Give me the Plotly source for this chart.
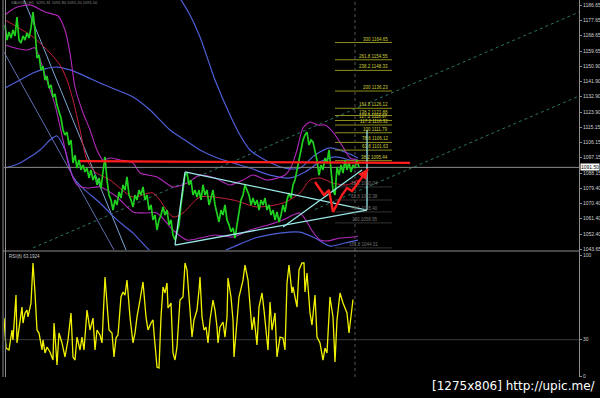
import plotly.graph_objects as go

# ---------------- data ----------------
# closing prices, one per bar
close = [1174.9, 1166.1, 1170.8, 1167.3, 1172.0, 1168.5, 1179.6, 1166.1, 1164.4, 1168.5,
         1166.1, 1170.2, 1167.3, 1173.2, 1182.5, 1172.0, 1155.6, 1157.3, 1148.5, 1150.9,
         1142.7, 1145.0, 1138.0, 1139.8, 1132.7, 1134.5, 1128.0, 1123.9, 1120.4, 1113.4,
         1110.5, 1112.2, 1104.6, 1107.5, 1094.1, 1098.7, 1091.1, 1095.8, 1090.0, 1092.9,
         1088.8, 1091.1, 1085.3, 1090.0, 1084.1, 1087.0, 1081.2, 1085.3, 1079.4, 1088.8,
         1097.6, 1084.1, 1075.3, 1072.4, 1066.5, 1072.4, 1069.5, 1077.1, 1073.5, 1081.2,
         1078.2, 1085.9, 1075.3, 1072.4, 1068.3, 1075.3, 1072.4, 1078.2, 1075.3, 1080.0,
         1072.4, 1075.3, 1066.5, 1069.5, 1060.7, 1063.6, 1054.8, 1060.7, 1063.6, 1068.3,
         1063.6, 1066.5, 1057.8, 1060.7, 1051.9, 1049.0, 1053.7, 1057.8, 1069.5, 1078.2,
         1087.0, 1088.2, 1081.2, 1084.1, 1075.3, 1078.2, 1074.1, 1078.2, 1072.4, 1081.2,
         1075.3, 1078.2, 1069.5, 1073.5, 1078.2, 1069.5, 1063.6, 1059.5, 1066.5, 1063.6,
         1069.5, 1060.7, 1057.8, 1053.7, 1056.0, 1050.1, 1057.8, 1065.4, 1072.4, 1075.3,
         1081.2, 1078.2, 1075.3, 1069.5, 1073.5, 1069.5, 1072.4, 1066.5, 1072.4, 1069.5,
         1073.5, 1066.5, 1069.5, 1063.6, 1066.5, 1060.7, 1065.4, 1059.5, 1063.6, 1069.5,
         1065.4, 1072.4, 1076.5, 1073.5, 1081.2, 1084.1, 1090.0, 1095.8, 1101.7, 1107.5,
         1110.5, 1112.2, 1104.6, 1107.5, 1106.4, 1101.7, 1095.8, 1087.0, 1092.9, 1090.0,
         1097.0, 1094.1, 1101.7, 1090.0, 1078.2, 1075.3, 1091.7, 1087.0, 1092.9, 1088.2,
         1095.8, 1090.0, 1094.6, 1088.8, 1092.9, 1091.1, 1095.8, 1091.5]
last_price = 1091.5

# RSI(8): (bar, value)
rsi_points = [(-0.5, 47.9), (0.5, 23.1), (2, 21.5), (3.5, 38.0), (4, 29.8), (5.5, 66.9), (6, 27.3),
              (7, 40.5), (8.5, 57.0), (9, 43.8), (10, 52.1), (11, 54.5), (11.5, 48.8), (13, 60.3),
              (14, 93.4), (15, 68.6), (16, 38.0), (17, 35.5), (18.5, 21.5), (19, 29.8), (20, 19.0),
              (21, 24.0), (22.5, 19.8), (24, 13.2), (24.5, 43.8), (25.5, 21.5), (26, 9.1), (27, 35.5),
              (28.5, 27.3), (30, 15.7), (31.5, 29.8), (33, 52.1), (34, 15.7), (35, 13.2), (36, 32.2),
              (37.5, 21.5), (38.5, 32.2), (39.5, 21.5), (41, 54.5), (42.5, 38.0), (44, 47.9),
              (45, 21.5), (46, 38.0), (47.5, 33.9), (48.5, 27.3), (50, 81.8), (51, 60.3), (52, 38.0),
              (53.5, 35.5), (54.5, 15.7), (55.5, 31.4), (56.5, 33.9), (58, 65.3), (59, 69.4),
              (60, 66.9), (61, 79.3), (62.5, 48.8), (64, 27.3), (65, 35.5), (66, 48.8), (67.5, 62.8),
              (69, 77.7), (70.5, 48.8), (71.5, 38.0), (73, 43.8), (74, 46.3), (74.5, 35.5), (76, 7.4),
              (77, 6.6), (78, 48.8), (79, 73.6), (80, 68.6), (81, 76.9), (81.5, 56.2), (83, 60.3),
              (84, 19.0), (85, 13.2), (86, 24.0), (87.5, 62.8), (89, 65.3), (90, 93.4), (91, 87.6),
              (92, 65.3), (93.5, 32.2), (94.5, 46.3), (96, 54.5), (97, 71.1), (97.5, 81.8),
              (98.5, 48.8), (99.5, 38.0), (100.5, 40.5), (101.5, 27.3), (102.5, 46.3), (104, 62.8),
              (105, 54.5), (106, 40.5), (106.5, 27.3), (107.5, 40.5), (109, 44.6), (110, 32.2),
              (111, 48.8), (111.5, 81.0), (113, 65.3), (114, 46.3), (114.5, 15.7), (116, 44.6),
              (117, 65.3), (119, 79.3), (120, 91.7), (121.5, 79.3), (123.5, 38.0), (124.5, 48.8),
              (126, 25.6), (127, 57.0), (128.5, 68.6), (129.5, 54.5), (130.5, 38.0), (131.5, 21.5),
              (132.5, 61.2), (133.5, 38.0), (135, 52.1), (136, 15.7), (137.5, 32.2), (139, 31.4),
              (140, 21.5), (141, 76.9), (142, 91.7), (143.5, 68.6), (144, 73.6), (145.5, 62.8),
              (146, 57.0), (147, 87.6), (148.5, 93.4), (149.5, 93.4), (150, 69.4), (151, 85.1),
              (152.5, 52.1), (153.5, 42.1), (155, 66.9), (156, 32.2), (157.5, 27.3), (159, 13.2),
              (160, 23.1), (161, 19.0), (162.5, 65.3), (164, 48.8), (165, 11.6), (166, 46.3),
              (167.5, 68.6), (169, 60.3), (170, 56.2), (171, 52.1), (172, 35.5), (173.5, 60.3),
              (174, 63.19)]
rsi_level = 30

# indicator curves: (bar, price)
magenta_upper = [(0, 1180.8), (5, 1184.9), (12.5, 1186.7), (20, 1182.5), (26.5, 1180.2), (30, 1172.0),
                 (32.5, 1158.5), (35, 1138.6), (38.5, 1125.1), (42.5, 1113.4), (46, 1101.7),
                 (49, 1095.8), (52.5, 1097.0), (57.5, 1095.8), (64, 1094.1), (67.5, 1088.2),
                 (76, 1085.9), (84, 1080.0), (91, 1082.3), (97.5, 1087.0), (105, 1085.3),
                 (112.5, 1081.2), (119, 1084.1), (124, 1087.0), (131, 1084.1), (140, 1087.0),
                 (143.5, 1092.9), (146, 1101.7), (149, 1114.6), (152.5, 1118.1), (156.5, 1116.3),
                 (160, 1116.3), (164, 1112.2), (169, 1103.4), (172.5, 1097.0), (176.5, 1095.8)]
magenta_lower = [(0, 1163.2), (5, 1161.5), (11, 1160.3), (15, 1161.5), (20, 1145.6), (25, 1128.1),
                 (29, 1107.5), (32.5, 1090.0), (36, 1081.2), (41, 1079.4), (47.5, 1080.0),
                 (56, 1074.1), (64, 1065.4), (70, 1064.8), (76, 1064.8), (84, 1054.8), (91, 1048.9),
                 (97.5, 1050.1), (105, 1051.9), (114, 1050.7), (122.5, 1054.8), (131.5, 1057.7),
                 (139, 1060.7), (144, 1063.6), (147.5, 1064.8), (151, 1059.5), (154, 1053.6),
                 (157.5, 1048.9), (161, 1048.4), (167.5, 1050.1), (174, 1050.7), (176.5, 1051.3)]
red_ma = [(0, 1177.9), (6, 1173.8), (14, 1167.9), (22.5, 1158.5), (27.5, 1151.5), (31, 1142.7),
          (34, 1131.0), (37.5, 1113.4), (41, 1095.8), (45, 1088.8), (52.5, 1084.1), (64, 1074.1),
          (74, 1076.5), (84, 1062.4), (89, 1064.8), (97.5, 1074.1), (114, 1072.4), (126, 1068.3),
          (139, 1070.6), (147.5, 1076.5), (152.5, 1084.1), (157.5, 1085.3), (164, 1082.3),
          (171, 1081.2), (176.5, 1084.1)]
blue_upper = [(0, 1138.0), (7.5, 1142.7), (14, 1146.8), (20, 1149.2), (26, 1150.3), (32.5, 1148.6),
              (40, 1145.0), (47.5, 1140.9), (56, 1136.8), (64, 1132.7), (72.5, 1125.1), (82.5, 1113.4),
              (90, 1107.5), (97.5, 1101.7), (105, 1097.6), (114, 1094.1), (122.5, 1091.1),
              (132.5, 1087.0), (142.5, 1085.3), (150, 1088.8), (157.5, 1094.7), (165, 1097.6),
              (172.5, 1095.8), (176.5, 1094.7)]
blue_lower = [(0, 1091.1), (7.5, 1094.1), (17.5, 1101.7), (22.5, 1107.5), (26, 1109.9), (30, 1101.7),
              (34, 1085.9), (40, 1078.2), (47.5, 1070.6), (56, 1060.7), (64, 1053.0), (71, 1044.3),
              (77.5, 1037.2), (87.5, 1033.0), (97.5, 1035.5), (105, 1040.2), (114, 1044.8),
              (125, 1050.1), (137.5, 1053.0), (147.5, 1053.6), (155, 1050.1), (162.5, 1045.4),
              (170, 1047.2), (176.5, 1048.9)]
blue_outer = [(86.5, 1192.5), (92.5, 1180.8), (97.5, 1167.9), (105, 1142.7), (112.5, 1122.2),
              (117.5, 1110.5), (122.5, 1101.7), (130, 1095.8), (140, 1091.1), (147.5, 1091.1),
              (155, 1098.7), (162.5, 1102.9), (170, 1100.5), (176.5, 1097.0)]

# straight drawn objects: (bar, price) end points
channel_a = [(-0.5, 1159.0), (54.5, 1043.1)]
channel_b = [(9.5, 1189.6), (60.5, 1043.1)]
triangle_top = [(90, 1088.8), (181, 1066.5)]
triangle_left = [(90, 1088.8), (85, 1046.0)]
triangle_bottom = [(85, 1046.0), (181, 1066.5)]
wedge_line = [(139, 1056.6), (178.5, 1090.0)]
measure_line = [(181, 1113.4), (181, 1066.5)]
dotted_upper = [(14, 1044.3), (287, 1182.5)]
dotted_lower = [(155, 1066.8), (287, 1133.3)]
resistance = [(37.5, 1095.2), (202.5, 1094.1)]
red_path = [(155, 1082.9), (159.5, 1075.3), (162, 1078.2), (164, 1065.4), (168.5, 1075.3),
            (171, 1079.4), (173.5, 1077.6), (181.5, 1090.6)]
cursor_bar = 175

# fibonacci expansion levels
fib_ratio = ["300", "261.8", "238.2", "200", "161.8", "138.2", "127.2", "117.2", "100", "78.6",
             "61.8", "38.2"]
fib_price = [1164.65, 1154.55, 1148.33, 1136.23, 1126.12, 1121.88, 1118.97, 1116.32, 1111.79,
             1106.12, 1101.63, 1095.44]
fib2_ratio = ["38.2", "61.8", "78.6", "100", "161.8"]
fib2_price = [1080.04, 1072.38, 1065.40, 1058.95, 1044.31]
fib_x = [165, 193.5]

price_ticks = [1186.65, 1177.65, 1168.65, 1159.65, 1150.90, 1141.90, 1132.90, 1123.90, 1115.15,
               1106.15, 1097.15, 1088.15, 1079.40, 1070.40, 1061.40, 1052.40, 1043.65]
rsi_ticks = [100, 30, 0]

# ---------------- figure ----------------
fig = go.Figure()


def split(points):
    return [p[0] for p in points], [p[1] for p in points]


def add_line(points, color, width, shape="linear", dash="solid", axes=("x", "y")):
    x, y = split(points)
    line = dict(color=color, width=width, shape=shape, dash=dash)
    if shape == "spline":
        line["smoothing"] = 0.7
    fig.add_trace(go.Scatter(x=x, y=y, mode="lines", line=line, xaxis=axes[0], yaxis=axes[1],
                             hoverinfo="skip", cliponaxis=True))


BLUE = "#4f5fd8"
MAG = "#b02ab8"
DOT = "#2c7466"

add_line(channel_a, "#5f6fb0", 1)
add_line(channel_b, "#7fa6d6", 1)
add_line(dotted_upper, DOT, 1, dash="dot")
add_line(dotted_lower, DOT, 1, dash="dot")
add_line(blue_upper, BLUE, 1.2, "spline")
add_line(blue_lower, BLUE, 1.2, "spline")
add_line(blue_outer, BLUE, 1.2, "spline")
add_line(magenta_upper, MAG, 1.1, "spline")
add_line(magenta_lower, MAG, 1.1, "spline")
add_line(red_ma, "#c8203c", 1, "spline")

# horizontal price line
fig.add_trace(go.Scatter(x=[-0.5, 287], y=[last_price, last_price], mode="lines",
                         line=dict(color="#8a8a8a", width=1), hoverinfo="skip"))

# fib levels
for r, p in zip(fib_ratio, fib_price):
    fig.add_trace(go.Scatter(x=fib_x, y=[p, p], mode="lines", line=dict(color="#8e8e20", width=1),
                             hoverinfo="skip"))
    fig.add_annotation(x=fib_x[1] - 1, y=p, xref="x", yref="y", text=f"{r} {p:.2f}",
                       showarrow=False, xanchor="right", yanchor="bottom", yshift=-1,
                       font=dict(size=4.5, color="#cfcf3c", family="Liberation Sans"))
for r, p in zip(fib2_ratio, fib2_price):
    fig.add_trace(go.Scatter(x=fib_x, y=[p, p], mode="lines", line=dict(color="#333333", width=1),
                             hoverinfo="skip"))
    fig.add_annotation(x=fib_x[1] - 6, y=p, xref="x", yref="y", text=f"{r} {p:.2f}",
                       showarrow=False, xanchor="right", yanchor="bottom", yshift=-1,
                       font=dict(size=4.5, color="#707070", family="Liberation Sans"))

# price
fig.add_trace(go.Scatter(x=list(range(len(close))), y=close, mode="lines",
                         line=dict(color="#1fd01f", width=1.7), hoverinfo="skip"))

# drawings
CYAN = "#9ae8e8"
add_line(triangle_top, CYAN, 1.3)
add_line(triangle_left, CYAN, 1.3)
add_line(triangle_bottom, CYAN, 1.3)
add_line(wedge_line, CYAN, 1.3)
add_line(measure_line, CYAN, 1.3)
add_line(resistance, "#ff1c1c", 2.2)
add_line(red_path, "#ff1c1c", 2.4)
fig.add_annotation(x=red_path[-1][0], y=red_path[-1][1], ax=red_path[-2][0], ay=red_path[-2][1],
                   xref="x", yref="y", axref="x", ayref="y", showarrow=True, text="",
                   arrowcolor="#ff1c1c", arrowhead=2, arrowwidth=2, arrowsize=1)

# RSI pane
fig.add_trace(go.Scatter(x=[-0.5, 287], y=[rsi_level, rsi_level], mode="lines",
                         line=dict(color="#3a3a3a", width=1), xaxis="x2", yaxis="y2",
                         hoverinfo="skip"))
rx, rv = split(rsi_points)
fig.add_trace(go.Scatter(x=rx, y=rv, mode="lines", line=dict(color="#f2f200", width=1.3),
                         xaxis="x2", yaxis="y2", hoverinfo="skip"))

MAIN_DOM = [1 - 250 / 398, 1]
RSI_DOM = [1 - 377 / 398, 1 - 252 / 398]
XDOM = [4 / 600, 579 / 600]

# vertical dotted cursor line across both panes
fig.add_shape(type="line", xref="x", yref="paper", x0=cursor_bar, x1=cursor_bar,
              y0=RSI_DOM[0], y1=1, line=dict(color="#555555", width=1, dash="dot"))

# frame lines
frame = dict(type="line", xref="paper", yref="paper", line=dict(color="#8c8c8c", width=1))
fig.add_shape(**frame, x0=3 / 600, x1=3 / 600, y0=RSI_DOM[0], y1=1)
fig.add_shape(**frame, x0=5.5 / 600, x1=5.5 / 600, y0=RSI_DOM[0], y1=1)
fig.add_shape(**frame, x0=579.5 / 600, x1=579.5 / 600, y0=RSI_DOM[0], y1=1)
fig.add_shape(**frame, x0=3 / 600, x1=579.5 / 600, y0=1 - 251 / 398, y1=1 - 251 / 398)

# labels
fig.add_annotation(xref="paper", yref="y", x=580 / 600, y=last_price, text=f"{last_price:.2f}",
                   showarrow=False, xanchor="left", yanchor="middle", bgcolor="#ffffff",
                   font=dict(size=5, color="#000000", family="Liberation Sans"), borderpad=0)
fig.add_annotation(xref="paper", yref="paper", x=9 / 600, y=1 - 2 / 398,
                   text="XAUUSD,H1  1091.31 1091.80 1091.20 1091.50", showarrow=False,
                   xanchor="left", yanchor="middle",
                   font=dict(size=4, color="#8a8a8a", family="Liberation Sans"))
fig.add_annotation(xref="paper", yref="paper", x=7 / 600, y=1 - 256 / 398,
                   text="RSI(8) 63.1924", showarrow=False, xanchor="left", yanchor="middle",
                   font=dict(size=4.5, color="#c8c8c8", family="Liberation Sans"))
fig.add_annotation(xref="paper", yref="paper", x=598 / 600, y=1 - 386 / 398,
                   text="[1275x806] http://upic.me/", showarrow=False, xanchor="right",
                   yanchor="middle", font=dict(size=12, color="#ffffff", family="DejaVu Sans"))

axis_font = dict(size=5, color="#d0d0d0", family="Liberation Sans")
fig.update_layout(
    width=600, height=398, margin=dict(l=0, r=0, t=0, b=0),
    paper_bgcolor="#000000", plot_bgcolor="#000000", showlegend=False,
    xaxis=dict(domain=XDOM, range=[-0.5, 287], visible=False, fixedrange=True),
    yaxis=dict(domain=MAIN_DOM, range=[1043.08, 1189.58], side="right", anchor="x",
               tickvals=price_ticks, ticktext=[f"{v:.2f}" for v in price_ticks],
               tickfont=axis_font, ticks="outside", ticklen=2, tickcolor="#8c8c8c",
               showgrid=False, zeroline=False, showline=False, automargin=False, fixedrange=True),
    xaxis2=dict(domain=XDOM, range=[-0.5, 287], visible=False, anchor="y2", fixedrange=True),
    yaxis2=dict(domain=RSI_DOM, range=[-0.83, 102.48], side="right", anchor="x2",
                tickvals=rsi_ticks, ticktext=[str(v) for v in rsi_ticks],
                tickfont=axis_font, ticks="outside", ticklen=2, tickcolor="#8c8c8c",
                showgrid=False, zeroline=False, showline=False, automargin=False, fixedrange=True),
)

fig.write_html("out.html", config={"displayModeBar": False})
